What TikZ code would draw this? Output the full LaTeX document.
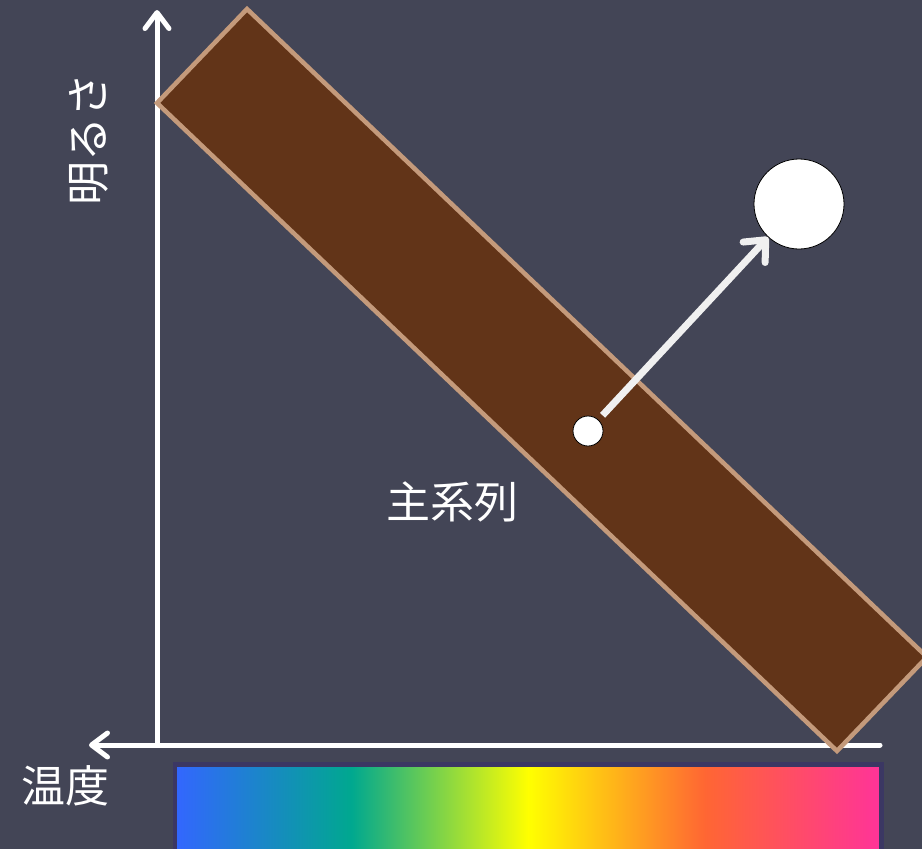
\documentclass[tikz,border=0pt]{standalone}
\usepackage{fontspec}
\newfontfamily\jpfont{Noto Sans CJK JP}
\usetikzlibrary{arrows.meta, positioning}
\definecolor{bg}{HTML}{434556}
\definecolor{bandfill}{HTML}{623418}
\definecolor{bandedge}{HTML}{C49A7B}
\definecolor{barEdge}{HTML}{3B3763}
\definecolor{cblue}{HTML}{3366FF}
\definecolor{cteal}{HTML}{00A88F}
\definecolor{cyellow}{HTML}{FFFF00}
\definecolor{cred}{HTML}{FF6633}
\definecolor{cpink}{HTML}{FF3399}
\pgfdeclarehorizontalshading{spectrum}{100bp}{color(0bp)=(cblue); color(25bp)=(cblue); color(37.5bp)=(cteal); color(50bp)=(cyellow); color(62.5bp)=(cred); color(75bp)=(cpink); color(100bp)=(cpink)}
\tikzset{
  axis/.style={white, line width=5pt, line cap=round, -{Straight Barb[length=16pt, width=24pt, round]}},
  band/.style={fill=bandfill, draw=bandedge, line width=4.5pt, line join=miter},
  dot/.style={circle, fill=white, draw=black, line width=0.8pt, inner sep=0pt},
  beam/.style={draw=white!94!black, line width=7pt, shorten <=6pt, -{Straight Barb[length=17pt, width=30pt, round]}},
  jp/.style={text=white, font=\jpfont\fontsize{44}{44}\selectfont, inner sep=0pt}
}
\begin{document}
\begin{tikzpicture}[x=1pt, y=-1pt]
  \fill[bg] (0,0) rectangle (922,849);
  \useasboundingbox (0,0) rectangle (922,849);
  \coordinate (origin) at (157,745);
  \coordinate (ytip) at (157,10);
  \coordinate (xtip) at (89,745);
  \coordinate (xend) at (880,745);
  \draw[axis] (origin) -- (ytip);
  \draw[axis] (xend) -- (xtip);
  % main sequence band
  \draw[band] (157,103) -- (247,9) -- (927,657) -- (837,751) -- cycle;
  % temperature bar
  \draw[shading=spectrum, draw=barEdge, line width=4.5pt] (175,764.5) rectangle (881.5,860);
  \node[dot, minimum size=30pt] (dim) at (588,431) {};
  \node[dot, minimum size=90pt] (bright) at (799,204) {};
  \draw[beam] (dim) -- (bright);
  \node[jp, rotate=90] (brightness) at (89,139) {明るさ};
  \node[jp] (temp) at (65,786) {温度};
  \node[jp] (mainseq) at (452,502) {主系列};
\end{tikzpicture}
\end{document}
